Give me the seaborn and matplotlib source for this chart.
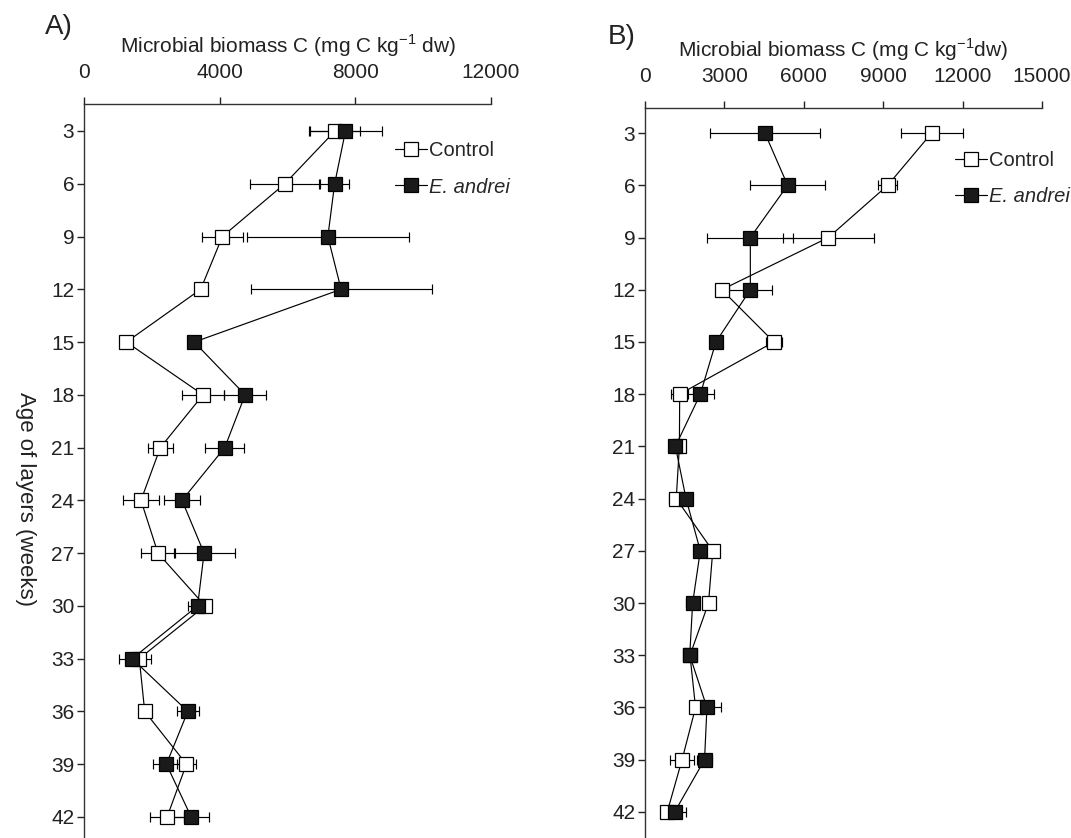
import numpy as np
import pandas as pd
import matplotlib
matplotlib.use("Agg")
import matplotlib.pyplot as plt
import seaborn as sns

# weeks (age of layers)
weeks = [3, 6, 9, 12, 15, 18, 21, 24, 27, 30, 33, 36, 39, 42]

# panel A
a_control = [7400, 5920, 4080, 3440, 1250, 3510, 2250, 1680, 2180, 3570, 1630, 1790, 3020, 2450]
a_control_err = [750, 1020, 600, 150, 100, 630, 370, 540, 500, 150, 350, 150, 290, 490]
a_andrei = [7710, 7390, 7190, 7580, 3250, 4750, 4150, 2890, 3540, 3350, 1420, 3060, 2430, 3160]
a_andrei_err = [1080, 420, 2390, 2670, 100, 630, 580, 520, 900, 290, 390, 330, 390, 540]

# panel B
b_control = [10830, 9170, 6930, 2900, 4870, 1310, 1300, 1180, 2560, 2400, 1700, 1910, 1400, 840]
b_control_err = [1170, 350, 1720, 230, 300, 310, 150, 270, 100, 220, 100, 200, 470, 170]
b_andrei = [4530, 5390, 3980, 3980, 2680, 2090, 1150, 1550, 2090, 1800, 1690, 2340, 2250, 1120]
b_andrei_err = [2065, 1410, 1620, 820, 100, 500, 150, 100, 100, 250, 100, 550, 300, 420]

sns.set_style("ticks")
plt.rcParams["font.family"] = ["Liberation Sans", "DejaVu Sans"]
plt.rcParams["axes.linewidth"] = 1.0

fig = plt.figure(figsize=(10.71, 8.38), dpi=100)
axA = fig.add_axes([84 / 1071, 1 - 837 / 838, 407 / 1071, 733 / 838])
axB = fig.add_axes([645 / 1071, 1 - 837 / 838, 397 / 1071, 729 / 838])


def panel(ax, control, c_err, andrei, a_err, xmax, xticks, ylim, xlabel, leg_anchor):
    df = pd.DataFrame({"week": weeks, "control": control, "andrei": andrei})
    ax.errorbar(control, weeks, xerr=c_err, fmt="none", ecolor="black",
                elinewidth=0.85, capsize=3.5, capthick=0.85, zorder=1)
    ax.errorbar(andrei, weeks, xerr=a_err, fmt="none", ecolor="black",
                elinewidth=0.85, capsize=3.5, capthick=0.85, zorder=1)
    sns.lineplot(data=df, x="control", y="week", orient="y", ax=ax, color="black",
                 lw=0.85, marker="s", markersize=9.5, markerfacecolor="white",
                 markeredgecolor="black", markeredgewidth=0.9, label="Control", zorder=3)
    sns.lineplot(data=df, x="andrei", y="week", orient="y", ax=ax, color="black",
                 lw=0.85, marker="s", markersize=9.5, markerfacecolor="#1a1a1a",
                 markeredgecolor="black", markeredgewidth=0.9, label="E. andrei", zorder=4)
    ax.set_xlim(0, xmax)
    ax.set_ylim(*ylim)
    ax.set_xticks(xticks)
    ax.set_yticks(weeks)
    ax.xaxis.tick_top()
    ax.xaxis.set_label_position("top")
    for s in ["right", "bottom"]:
        ax.spines[s].set_visible(False)
    for s in ["top", "left"]:
        ax.spines[s].set_color("#333333")
    ax.tick_params(axis="x", direction="out", length=5, width=1, pad=11,
                   labelsize=15, colors="#222222", top=True, bottom=False)
    ax.tick_params(axis="y", direction="out", length=5, width=1, pad=2,
                   labelsize=15, colors="#222222")
    ax.set_xlabel(xlabel, fontsize=15, labelpad=7, color="#222222")
    ax.set_ylabel("")
    leg = ax.legend(loc="upper left", bbox_to_anchor=leg_anchor, frameon=False,
                    fontsize=14.5, handlelength=1.6, handletextpad=0.1,
                    labelspacing=0.85, borderpad=0, borderaxespad=0)
    leg.get_texts()[1].set_style("italic")


panel(axA, a_control, a_control_err, a_andrei, a_andrei_err, 12000,
      [0, 4000, 8000, 12000], (43.14, 1.465),
      r"Microbial biomass C (mg C kg$^{\mathregular{-1}}$ dw)", (0.764, 0.949))
panel(axB, b_control, b_control_err, b_andrei, b_andrei_err, 15000,
      [0, 3000, 6000, 9000, 12000, 15000], (43.44, 1.56),
      r"Microbial biomass C (mg C kg$^{\mathregular{-1}}$dw)", (0.78, 0.941))

fig.text(25 / 1071, 1 - 499 / 838, "Age of layers (weeks)", rotation=270,
         ha="center", va="center", fontsize=16, color="#222222")
fig.text(45 / 1071, 1 - 27 / 838, "A)", fontsize=20, ha="left", va="center", color="#222222")
fig.text(608 / 1071, 1 - 37 / 838, "B)", fontsize=20, ha="left", va="center", color="#222222")

fig.savefig("out.png", dpi=100)
